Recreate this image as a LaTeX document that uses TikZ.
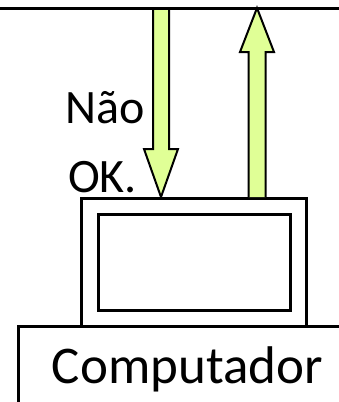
\documentclass[tikz,border=0pt]{standalone}
\usepackage{fontspec}
\setmainfont{Carlito}
\definecolor{arrowfill}{RGB}{224,255,150}
\begin{document}
\begin{tikzpicture}[x=1pt,y=-1pt,
  box/.style={draw=black,line width=3pt,fill=white},
  arr/.style={draw=black,line width=2pt,fill=arrowfill,line join=miter},
  lbl/.style={inner sep=0pt,font=\fontsize{48}{56}\selectfont}]
\useasboundingbox (0,0) rectangle (339,402);
% top line
\coordinate (L) at (0,8);
\coordinate (R) at (339,8);
% base
\node[box,anchor=north west,minimum width=340pt,minimum height=90pt,inner sep=0pt] (base) at (17,325) {};
\node[lbl,anchor=base,font=\fontsize{53}{60}\selectfont] (comp) at (187.5,383) {Computador};
% monitor
\node[box,anchor=north west,minimum width=225pt,minimum height=128pt,inner sep=0pt] (mon) at (80,197) {};
\node[draw=black,line width=3pt,anchor=north west,minimum width=192pt,minimum height=96pt,inner sep=0pt] (scr) at (97,213) {};
% down arrow
\draw[arr] (153,8) -- (153,149) -- (144,149) -- (161,197) -- (178,149) -- (169,149) -- (169,8);
% up arrow
\draw[arr] (248.5,197) -- (248.5,52) -- (240,52) -- (257,8) -- (274,52) -- (265.5,52) -- (265.5,197);
\draw[line width=3pt] (L) -- (R);
% labels
\node[lbl,anchor=base west] (nao) at (65,123) {Não};
\node[lbl,anchor=base west] (ok) at (68,192) {OK.};
\end{tikzpicture}
\end{document}
